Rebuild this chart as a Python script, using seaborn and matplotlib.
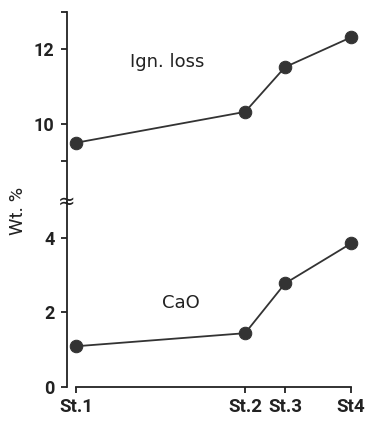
import matplotlib
matplotlib.use("Agg")
import matplotlib.pyplot as plt
import seaborn as sns
import pandas as pd

stations = ["St.1", "St.2", "St.3", "St4"]
station_x = [0.0, 6.15, 7.6, 10.0]
ign_loss = [9.49, 10.32, 11.52, 12.32]
cao = [1.09, 1.44, 2.77, 3.84]

sns.set_style("ticks")
plt.rcParams["font.family"] = ["Roboto", "DejaVu Sans"]

W, H = 371, 423
fig = plt.figure(figsize=(W / 100, H / 100), dpi=100)
left = 67 / W
width = (362 - 67) / W
ax_bot = fig.add_axes([left, (H - 387) / H, width, (387 - 202) / H])
ax_top = fig.add_axes([left, (H - 202) / H, width, (202 - 12) / H], sharex=ax_bot)

col = "#333333"
df_top = pd.DataFrame({"x": station_x, "y": ign_loss})
df_bot = pd.DataFrame({"x": station_x, "y": cao})
sns.lineplot(data=df_top, x="x", y="y", ax=ax_top, color=col, marker="o",
             markersize=9, markeredgecolor=col, linewidth=1.3, clip_on=False)
sns.lineplot(data=df_bot, x="x", y="y", ax=ax_bot, color=col, marker="o",
             markersize=9, markeredgecolor=col, linewidth=1.3, clip_on=False)

ax_bot.set_xlim(-9 / 27.5, 10 + 11 / 27.5)
ax_top.set_ylim(7.9, 13.0)
ax_bot.set_ylim(0, 4.95)

for ax in (ax_top, ax_bot):
    ax.set_xlabel("")
    ax.set_ylabel("")
    ax.spines["right"].set_visible(False)
    ax.spines["top"].set_visible(False)
    for s in ax.spines.values():
        s.set_color("#222222")
        s.set_linewidth(1.3)
    ax.tick_params(axis="both", which="both", direction="out", length=4,
                   width=1.3, color="#222222", labelcolor="#222222")

ax_top.spines["bottom"].set_visible(False)
ax_top.tick_params(axis="x", which="both", bottom=False, labelbottom=False)
ax_top.set_yticks([10, 12])
ax_top.set_yticks([9, 13], minor=True)
ax_top.set_yticklabels(["10", "12"], fontsize=13, fontweight="bold")
ax_top.tick_params(axis="y", pad=5)

ax_bot.set_yticks([0, 2, 4])
ax_bot.set_yticklabels(["0", "2", "4"], fontsize=13, fontweight="bold")
ax_bot.tick_params(axis="y", pad=5)
ax_bot.spines["bottom"].set_bounds(station_x[0], station_x[-1])
ax_bot.set_xticks(station_x)
ax_bot.set_xticklabels(stations, fontsize=13.5, fontweight="bold")
ax_bot.tick_params(axis="x", pad=4)

ax_top.text(130 / W, 1 - 62 / H, "Ign. loss", transform=fig.transFigure,
            fontsize=13, ha="left", va="center", color="#222222",
            family=["DejaVu Sans"])
ax_bot.text(181 / W, 1 - 303 / H, "CaO", transform=fig.transFigure,
            fontsize=13, ha="center", va="center", color="#222222",
            family=["DejaVu Sans"])

fig.text(18 / W, 1 - 211 / H, "Wt. %", rotation=90, fontsize=14,
         ha="center", va="center", color="#222222")
fig.text(67 / W, 1 - 202 / H, "≈", fontsize=15, ha="center", va="center",
         color="#222222", family=["DejaVu Sans"])

fig.savefig("out.png", dpi=100)
